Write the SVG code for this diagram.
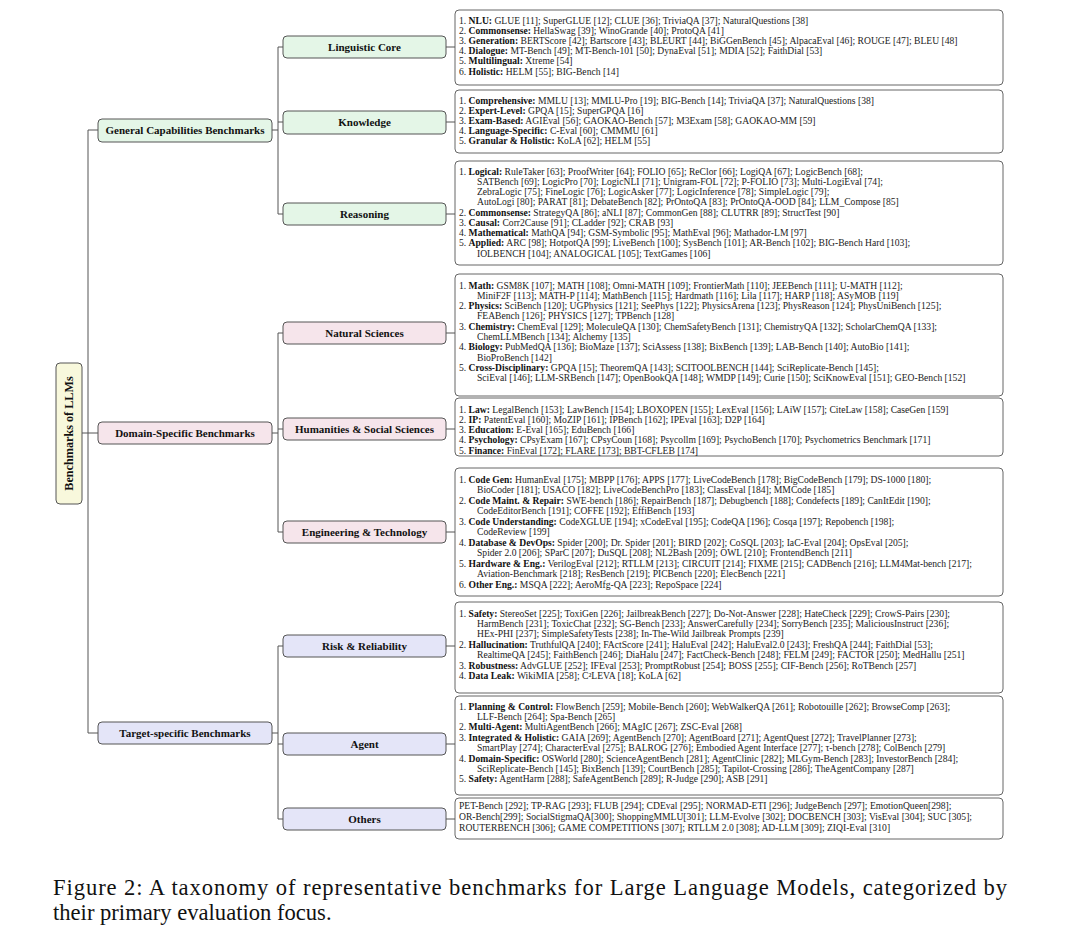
<svg xmlns="http://www.w3.org/2000/svg" width="1080" height="951" viewBox="0 0 1080 951">
<style>
.t{font-family:"Liberation Serif","Times New Roman",serif;font-size:9.6px;fill:#222}
.b{font-weight:bold;fill:#111}
.n{font-family:"Liberation Serif","Times New Roman",serif;font-size:11px;font-weight:bold;fill:#111;text-anchor:middle}
.cap{font-family:"Liberation Serif","Times New Roman",serif;font-size:22.6px;fill:#111}
.g{fill:#e4f6e7;stroke:#555;stroke-width:1}
.p{fill:#f6e5eb;stroke:#555;stroke-width:1}
.v{fill:#e4e5f8;stroke:#555;stroke-width:1}
.y{fill:#f8f8dc;stroke:#555;stroke-width:1}
.box{fill:#fff;stroke:#555;stroke-width:0.9}
.c{fill:none;stroke:#555;stroke-width:1}
</style>
<rect width="1080" height="951" fill="#fff"/>

<g id="connectors">
<path class="c" d="M82,433H88M88,130V733M88,130H98M88,433H98M88,733H98"/>
<path class="c" d="M272,130H278M278,47V214M278,47H283M278,122H283M278,214H283"/>
<path class="c" d="M272,433H278M278,333V532M278,333H283M278,429H283M278,532H283"/>
<path class="c" d="M272,733H278M278,646V819M278,646H283M278,744H283M278,819H283"/>
<path class="c" d="M446,47H455M446,122H455M446,214H455M446,333H455M446,429H455M446,532H455M446,646H455M446,744H455M446,819H455"/>
</g>

<g id="root">
<rect class="y" x="56" y="363" width="26" height="141" rx="4"/>
<text class="n" style="font-size:12.2px" transform="translate(73.3,433.5) rotate(-90)">Benchmarks of LLMs</text>
</g>

<g id="general">
<rect class="g" x="98" y="119" width="174" height="23" rx="4"/>
<text class="n" x="185" y="134.3">General Capabilities Benchmarks</text>
</g>
<g id="domain">
<rect class="p" x="98" y="422" width="174" height="22" rx="4"/>
<text class="n" x="185" y="436.8">Domain-Specific Benchmarks</text>
</g>
<g id="target">
<rect class="v" x="98" y="722" width="174" height="22" rx="4"/>
<text class="n" x="185" y="736.8">Target-specific Benchmarks</text>
</g>

<g id="linguistic-core">
<rect class="g" x="283" y="36" width="163" height="22" rx="4"/>
<text class="n" x="364.5" y="50.8">Linguistic Core</text>
</g>
<g id="knowledge">
<rect class="g" x="283" y="111" width="163" height="23" rx="4"/>
<text class="n" x="364.5" y="125.8">Knowledge</text>
</g>
<g id="reasoning">
<rect class="g" x="283" y="203" width="163" height="22" rx="4"/>
<text class="n" x="364.5" y="217.8">Reasoning</text>
</g>
<g id="natural-sciences">
<rect class="p" x="283" y="322" width="163" height="22" rx="4"/>
<text class="n" x="364.5" y="336.8">Natural Sciences</text>
</g>
<g id="humanities">
<rect class="p" x="283" y="418" width="163" height="22" rx="4"/>
<text class="n" x="364.5" y="432.8">Humanities &amp; Social Sciences</text>
</g>
<g id="engineering">
<rect class="p" x="283" y="521" width="163" height="22" rx="4"/>
<text class="n" x="364.5" y="535.8">Engineering &amp; Technology</text>
</g>
<g id="risk">
<rect class="v" x="283" y="635" width="163" height="22" rx="4"/>
<text class="n" x="364.5" y="649.8">Risk &amp; Reliability</text>
</g>
<g id="agent">
<rect class="v" x="283" y="733" width="163" height="22" rx="4"/>
<text class="n" x="364.5" y="747.8">Agent</text>
</g>
<g id="others">
<rect class="v" x="283" y="808" width="163" height="22" rx="4"/>
<text class="n" x="364.5" y="822.8">Others</text>
</g>

<g id="list-linguistic">
<rect class="box" x="455" y="10" width="548" height="75" rx="4"/>
<text class="t" x="459" y="23.5">1. <tspan class="b">NLU:</tspan> GLUE [11]; SuperGLUE [12]; CLUE [36]; TriviaQA [37]; NaturalQuestions [38]</text>
<text class="t" x="459" y="33.7">2. <tspan class="b">Commonsense:</tspan> HellaSwag [39]; WinoGrande [40]; ProtoQA [41]</text>
<text class="t" x="459" y="43.9">3. <tspan class="b">Generation:</tspan> BERTScore [42]; Bartscore [43]; BLEURT [44]; BiGGenBench [45]; AlpacaEval [46]; ROUGE [47]; BLEU [48]</text>
<text class="t" x="459" y="54.1">4. <tspan class="b">Dialogue:</tspan> MT-Bench [49]; MT-Bench-101 [50]; DynaEval [51]; MDIA [52]; FaithDial [53]</text>
<text class="t" x="459" y="64.3">5. <tspan class="b">Multilingual:</tspan> Xtreme [54]</text>
<text class="t" x="459" y="74.5">6. <tspan class="b">Holistic:</tspan> HELM [55]; BIG-Bench [14]</text>
</g>

<g id="list-knowledge">
<rect class="box" x="455" y="90" width="548" height="63" rx="4"/>
<text class="t" x="459" y="103.5">1. <tspan class="b">Comprehensive:</tspan> MMLU [13]; MMLU-Pro [19]; BIG-Bench [14]; TriviaQA [37]; NaturalQuestions [38]</text>
<text class="t" x="459" y="113.7">2. <tspan class="b">Expert-Level:</tspan> GPQA [15]; SuperGPQA [16]</text>
<text class="t" x="459" y="123.9">3. <tspan class="b">Exam-Based:</tspan> AGIEval [56]; GAOKAO-Bench [57]; M3Exam [58]; GAOKAO-MM [59]</text>
<text class="t" x="459" y="134.1">4. <tspan class="b">Language-Specific:</tspan> C-Eval [60]; CMMMU [61]</text>
<text class="t" x="459" y="144.3">5. <tspan class="b">Granular &amp; Holistic:</tspan> KoLA [62]; HELM [55]</text>
</g>

<g id="list-reasoning">
<rect class="box" x="455" y="161" width="548" height="104" rx="4"/>
<text class="t" x="459" y="174.5">1. <tspan class="b">Logical:</tspan> RuleTaker [63]; ProofWriter [64]; FOLIO [65]; ReClor [66]; LogiQA [67]; LogicBench [68];</text>
<text class="t" x="477" y="184.75">SATBench [69]; LogicPro [70]; LogicNLI [71]; Unigram-FOL [72]; P-FOLIO [73]; Multi-LogiEval [74];</text>
<text class="t" x="477" y="195">ZebraLogic [75]; FineLogic [76]; LogicAsker [77]; LogicInference [78]; SimpleLogic [79];</text>
<text class="t" x="477" y="205.25">AutoLogi [80]; PARAT [81]; DebateBench [82]; PrOntoQA [83]; PrOntoQA-OOD [84]; LLM_Compose [85]</text>
<text class="t" x="459" y="215.5">2. <tspan class="b">Commonsense:</tspan> StrategyQA [86]; aNLI [87]; CommonGen [88]; CLUTRR [89]; StructTest [90]</text>
<text class="t" x="459" y="225.75">3. <tspan class="b">Causal:</tspan> Corr2Cause [91]; CLadder [92]; CRAB [93]</text>
<text class="t" x="459" y="236">4. <tspan class="b">Mathematical:</tspan> MathQA [94]; GSM-Symbolic [95]; MathEval [96]; Mathador-LM [97]</text>
<text class="t" x="459" y="246.25">5. <tspan class="b">Applied:</tspan> ARC [98]; HotpotQA [99]; LiveBench [100]; SysBench [101]; AR-Bench [102]; BIG-Bench Hard [103];</text>
<text class="t" x="477" y="256.5">IOLBENCH [104]; ANALOGICAL [105]; TextGames [106]</text>
</g>

<g id="list-natural">
<rect class="box" x="455" y="274" width="548" height="122" rx="4"/>
<text class="t" x="459" y="288.5">1. <tspan class="b">Math:</tspan> GSM8K [107]; MATH [108]; Omni-MATH [109]; FrontierMath [110]; JEEBench [111]; U-MATH [112];</text>
<text class="t" x="477" y="298.8">MiniF2F [113]; MATH-P [114]; MathBench [115]; Hardmath [116]; Lila [117]; HARP [118]; ASyMOB [119]</text>
<text class="t" x="459" y="309.1">2. <tspan class="b">Physics:</tspan> SciBench [120]; UGPhysics [121]; SeePhys [122]; PhysicsArena [123]; PhysReason [124]; PhysUniBench [125];</text>
<text class="t" x="477" y="319.4">FEABench [126]; PHYSICS [127]; TPBench [128]</text>
<text class="t" x="459" y="329.7">3. <tspan class="b">Chemistry:</tspan> ChemEval [129]; MoleculeQA [130]; ChemSafetyBench [131]; ChemistryQA [132]; ScholarChemQA [133];</text>
<text class="t" x="477" y="340">ChemLLMBench [134]; Alchemy [135]</text>
<text class="t" x="459" y="350.3">4. <tspan class="b">Biology:</tspan> PubMedQA [136]; BioMaze [137]; SciAssess [138]; BixBench [139]; LAB-Bench [140]; AutoBio [141];</text>
<text class="t" x="477" y="360.6">BioProBench [142]</text>
<text class="t" x="459" y="370.9">5. <tspan class="b">Cross-Disciplinary:</tspan> GPQA [15]; TheoremQA [143]; SCITOOLBENCH [144]; SciReplicate-Bench [145];</text>
<text class="t" x="477" y="381.2">SciEval [146]; LLM-SRBench [147]; OpenBookQA [148]; WMDP [149]; Curie [150]; SciKnowEval [151]; GEO-Bench [152]</text>
</g>

<g id="list-humanities">
<rect class="box" x="455" y="398" width="548" height="58" rx="4"/>
<text class="t" x="459" y="412.5">1. <tspan class="b">Law:</tspan> LegalBench [153]; LawBench [154]; LBOXOPEN [155]; LexEval [156]; LAiW [157]; CiteLaw [158]; CaseGen [159]</text>
<text class="t" x="459" y="422.75">2. <tspan class="b">IP:</tspan> PatentEval [160]; MoZIP [161]; IPBench [162]; IPEval [163]; D2P [164]</text>
<text class="t" x="459" y="433">3. <tspan class="b">Education:</tspan> E-Eval [165]; EduBench [166]</text>
<text class="t" x="459" y="443.25">4. <tspan class="b">Psychology:</tspan> CPsyExam [167]; CPsyCoun [168]; Psycollm [169]; PsychoBench [170]; Psychometrics Benchmark [171]</text>
<text class="t" x="459" y="453.5">5. <tspan class="b">Finance:</tspan> FinEval [172]; FLARE [173]; BBT-CFLEB [174]</text>
</g>

<g id="list-engineering">
<rect class="box" x="455" y="468" width="548" height="128" rx="4"/>
<text class="t" x="459" y="482.5">1. <tspan class="b">Code Gen:</tspan> HumanEval [175]; MBPP [176]; APPS [177]; LiveCodeBench [178]; BigCodeBench [179]; DS-1000 [180];</text>
<text class="t" x="477" y="493">BioCoder [181]; USACO [182]; LiveCodeBenchPro [183]; ClassEval [184]; MMCode [185]</text>
<text class="t" x="459" y="503.5">2. <tspan class="b">Code Maint. &amp; Repair:</tspan> SWE-bench [186]; RepairBench [187]; Debugbench [188]; Condefects [189]; CanItEdit [190];</text>
<text class="t" x="477" y="514">CodeEditorBench [191]; COFFE [192]; EffiBench [193]</text>
<text class="t" x="459" y="524.5">3. <tspan class="b">Code Understanding:</tspan> CodeXGLUE [194]; xCodeEval [195]; CodeQA [196]; Cosqa [197]; Repobench [198];</text>
<text class="t" x="477" y="535">CodeReview [199]</text>
<text class="t" x="459" y="545.5">4. <tspan class="b">Database &amp; DevOps:</tspan> Spider [200]; Dr. Spider [201]; BIRD [202]; CoSQL [203]; IaC-Eval [204]; OpsEval [205];</text>
<text class="t" x="477" y="556">Spider 2.0 [206]; SParC [207]; DuSQL [208]; NL2Bash [209]; OWL [210]; FrontendBench [211]</text>
<text class="t" x="459" y="566.5">5. <tspan class="b">Hardware &amp; Eng.:</tspan> VerilogEval [212]; RTLLM [213]; CIRCUIT [214]; FIXME [215]; CADBench [216]; LLM4Mat-bench [217];</text>
<text class="t" x="477" y="577">Aviation-Benchmark [218]; ResBench [219]; PICBench [220]; ElecBench [221]</text>
<text class="t" x="459" y="587.5">6. <tspan class="b">Other Eng.:</tspan> MSQA [222]; AeroMfg-QA [223]; RepoSpace [224]</text>
</g>

<g id="list-risk">
<rect class="box" x="455" y="602" width="548" height="91" rx="4"/>
<text class="t" x="459" y="616.5">1. <tspan class="b">Safety:</tspan> StereoSet [225]; ToxiGen [226]; JailbreakBench [227]; Do-Not-Answer [228]; HateCheck [229]; CrowS-Pairs [230];</text>
<text class="t" x="477" y="626.9">HarmBench [231]; ToxicChat [232]; SG-Bench [233]; AnswerCarefully [234]; SorryBench [235]; MaliciousInstruct [236];</text>
<text class="t" x="477" y="637.3">HEx-PHI [237]; SimpleSafetyTests [238]; In-The-Wild Jailbreak Prompts [239]</text>
<text class="t" x="459" y="647.7">2. <tspan class="b">Hallucination:</tspan> TruthfulQA [240]; FActScore [241]; HaluEval [242]; HaluEval2.0 [243]; FreshQA [244]; FaithDial [53];</text>
<text class="t" x="477" y="658.1">RealtimeQA [245]; FaithBench [246]; DiaHalu [247]; FactCheck-Bench [248]; FELM [249]; FACTOR [250]; MedHallu [251]</text>
<text class="t" x="459" y="668.5">3. <tspan class="b">Robustness:</tspan> AdvGLUE [252]; IFEval [253]; PromptRobust [254]; BOSS [255]; CIF-Bench [256]; RoTBench [257]</text>
<text class="t" x="459" y="678.9">4. <tspan class="b">Data Leak:</tspan> WikiMIA [258]; C²LEVA [18]; KoLA [62]</text>
</g>

<g id="list-agent">
<rect class="box" x="455" y="696" width="548" height="99" rx="4"/>
<text class="t" x="459" y="709.5">1. <tspan class="b">Planning &amp; Control:</tspan> FlowBench [259]; Mobile-Bench [260]; WebWalkerQA [261]; Robotouille [262]; BrowseComp [263];</text>
<text class="t" x="477" y="719.9">LLF-Bench [264]; Spa-Bench [265]</text>
<text class="t" x="459" y="730.3">2. <tspan class="b">Multi-Agent:</tspan> MultiAgentBench [266]; MAgIC [267]; ZSC-Eval [268]</text>
<text class="t" x="459" y="740.7">3. <tspan class="b">Integrated &amp; Holistic:</tspan> GAIA [269]; AgentBench [270]; AgentBoard [271]; AgentQuest [272]; TravelPlanner [273];</text>
<text class="t" x="477" y="751.1">SmartPlay [274]; CharacterEval [275]; BALROG [276]; Embodied Agent Interface [277]; τ-bench [278]; ColBench [279]</text>
<text class="t" x="459" y="761.5">4. <tspan class="b">Domain-Specific:</tspan> OSWorld [280]; ScienceAgentBench [281]; AgentClinic [282]; MLGym-Bench [283]; InvestorBench [284];</text>
<text class="t" x="477" y="771.9">SciReplicate-Bench [145]; BixBench [139]; CourtBench [285]; Tapilot-Crossing [286]; TheAgentCompany [287]</text>
<text class="t" x="459" y="782.3">5. <tspan class="b">Safety:</tspan> AgentHarm [288]; SafeAgentBench [289]; R-Judge [290]; ASB [291]</text>
</g>

<g id="list-others">
<rect class="box" x="455" y="798" width="548" height="41" rx="4"/>
<text class="t" x="459" y="808.5">PET-Bench [292]; TP-RAG [293]; FLUB [294]; CDEval [295]; NORMAD-ETI [296]; JudgeBench [297]; EmotionQueen[298];</text>
<text class="t" x="459" y="819.5">OR-Bench[299]; SocialStigmaQA[300]; ShoppingMMLU[301]; LLM-Evolve [302]; DOCBENCH [303]; VisEval [304]; SUC [305];</text>
<text class="t" x="459" y="830.5">ROUTERBENCH [306]; GAME COMPETITIONS [307]; RTLLM 2.0 [308]; AD-LLM [309]; ZIQI-Eval [310]</text>
</g>

<g id="caption">
<text class="cap" x="53" y="895" textLength="954" lengthAdjust="spacing">Figure 2: A taxonomy of representative benchmarks for Large Language Models, categorized by</text>
<text class="cap" x="53" y="920">their primary evaluation focus.</text>
</g>
</svg>
